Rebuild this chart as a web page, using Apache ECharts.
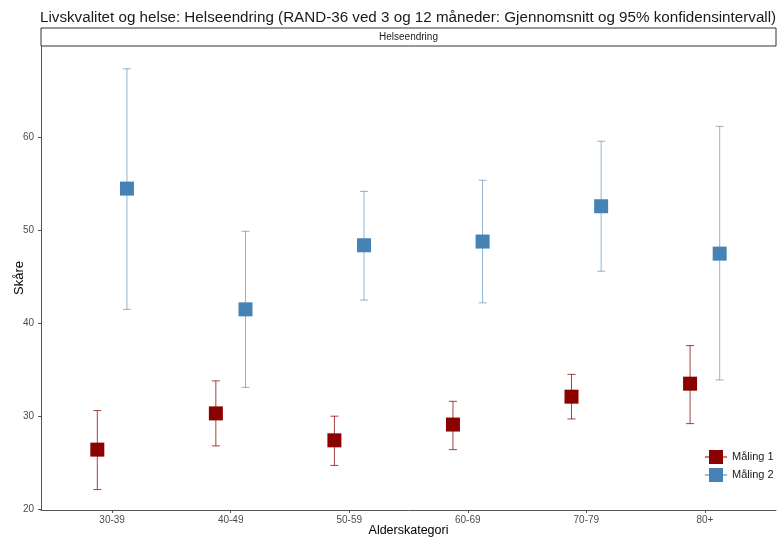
<!DOCTYPE html>
<html>
<head>
<meta charset="utf-8">
<script src="https://cdn.jsdelivr.net/npm/echarts@6/dist/echarts.min.js"></script>
<style>
  html, body { margin: 0; padding: 0; background: #fff; }
  #chart { width: 784px; height: 538px; }
</style>
</head>
<body>
<div id="chart"></div>
<script>
// Age groups and the two measurement series (mean with 95% CI)
const categories = ['30-39', '40-49', '50-59', '60-69', '70-79', '80+'];

const maling1Mean  = [26.4, 30.3, 27.4, 29.1, 32.1, 33.5];
const maling1Lower = [22.1, 26.8, 24.7, 26.4, 29.7, 29.2];
const maling1Upper = [30.6, 33.8, 30.0, 31.6, 34.5, 37.6];

const maling2Mean  = [54.5, 41.5, 48.4, 48.8, 52.6, 47.5];
const maling2Lower = [41.5, 33.1, 42.5, 42.2, 45.6, 33.9];
const maling2Upper = [67.4, 49.9, 54.2, 55.4, 59.6, 61.2];

const yTicks = [20, 30, 40, 50, 60];

const seriesNames = ['Måling 1', 'Måling 2'];
const colors = ['#8B0000', '#4682B4'];
const dodge = [-0.125, 0.125];

const chart = echarts.init(document.getElementById('chart'), null, { renderer: 'canvas' });

function errorBarSeries(idx, lower, upper) {
  const data = categories.map((c, i) => [i + 1 + dodge[idx], lower[i], upper[i]]);
  return {
    type: 'custom',
    name: seriesNames[idx] + ' KI',
    data: data,
    z: 1,
    silent: true,
    renderItem: function (params, api) {
      const x = api.value(0);
      const lo = api.coord([x, api.value(1)]);
      const hi = api.coord([x, api.value(2)]);
      const cap = 4;
      const style = { stroke: colors[idx], lineWidth: 1, opacity: idx === 0 ? 0.75 : 0.6 };
      return {
        type: 'group',
        children: [
          { type: 'line', shape: { x1: lo[0], y1: lo[1], x2: hi[0], y2: hi[1] }, style: style },
          { type: 'line', shape: { x1: lo[0] - cap, y1: lo[1], x2: lo[0] + cap, y2: lo[1] }, style: style },
          { type: 'line', shape: { x1: hi[0] - cap, y1: hi[1], x2: hi[0] + cap, y2: hi[1] }, style: style }
        ]
      };
    }
  };
}

function pointSeries(idx, means) {
  return {
    type: 'scatter',
    name: seriesNames[idx],
    data: means.map((v, i) => [i + 1 + dodge[idx], v]),
    symbol: 'rect',
    symbolSize: 14,
    z: 3,
    itemStyle: { color: colors[idx], opacity: 1 }
  };
}

const legendIcon = 'path://M0,6.5H4V0H18V6.5H22V7.5H18V14H4V7.5H0Z';

chart.setOption({
  animation: false,
  backgroundColor: '#ffffff',
  textStyle: { fontFamily: 'Liberation Sans, Arial, sans-serif' },
  title: {
    text: 'Livskvalitet og helse: Helseendring (RAND-36 ved 3 og 12 måneder: Gjennomsnitt og 95% konfidensintervall)',
    left: 35,
    top: 5,
    textStyle: { fontSize: 15.2, fontWeight: 'normal', color: '#1a1a1a', fontFamily: 'Liberation Sans, Arial, sans-serif' }
  },
  graphic: [
    {
      type: 'rect',
      shape: { x: 41, y: 28, width: 735, height: 18 },
      style: { fill: '#ffffff', stroke: '#333333', lineWidth: 1 },
      z: 10
    },
    {
      type: 'text',
      x: 408.5,
      y: 37,
      style: {
        text: 'Helseendring',
        fill: '#1a1a1a',
        fontSize: 10,
        fontFamily: 'Liberation Sans, Arial, sans-serif',
        textAlign: 'center',
        textVerticalAlign: 'middle'
      },
      z: 11
    }
  ],
  legend: {
    data: seriesNames.map((n, i) => ({ name: n, icon: legendIcon, itemStyle: { color: colors[i] } })),
    orient: 'vertical',
    left: 700,
    top: 445,
    itemWidth: 22,
    itemHeight: 14,
    itemGap: 4,
    textStyle: { fontSize: 11, color: '#1a1a1a', fontFamily: 'Liberation Sans, Arial, sans-serif' }
  },
  grid: { left: 41, right: 8, top: 46, bottom: 28, containLabel: false, outerBoundsMode: 'none' },
  xAxis: {
    type: 'value',
    min: 0.4,
    max: 6.6,
    name: 'Alderskategori',
    nameLocation: 'middle',
    nameGap: 14,
    nameMoveOverlap: false,
    nameTextStyle: { fontSize: 12.5, color: '#000000' },
    splitLine: { show: false },
    axisLine: { show: true, lineStyle: { color: '#555555', width: 1 } },
    axisTick: { show: true, length: 3, lineStyle: { color: '#555555' }, customValues: [1, 2, 3, 4, 5, 6] },
    axisLabel: {
      customValues: [1, 2, 3, 4, 5, 6],
      formatter: v => categories[Math.round(v) - 1] || '',
      fontSize: 10,
      color: '#4d4d4d',
      margin: 5
    }
  },
  yAxis: {
    type: 'value',
    min: 19.9,
    max: 69.85,
    name: 'Skåre',
    nameLocation: 'middle',
    nameRotate: 90,
    nameGap: 15,
    nameMoveOverlap: false,
    nameTextStyle: { fontSize: 13, color: '#000000' },
    splitLine: { show: false },
    axisLine: { show: true, lineStyle: { color: '#555555', width: 1 } },
    axisTick: { show: true, length: 3, lineStyle: { color: '#555555' }, customValues: yTicks },
    axisLabel: { customValues: yTicks, fontSize: 10, color: '#4d4d4d', margin: 7 }
  },
  series: [
    errorBarSeries(0, maling1Lower, maling1Upper),
    errorBarSeries(1, maling2Lower, maling2Upper),
    pointSeries(0, maling1Mean),
    pointSeries(1, maling2Mean)
  ]
});
</script>
</body>
</html>
